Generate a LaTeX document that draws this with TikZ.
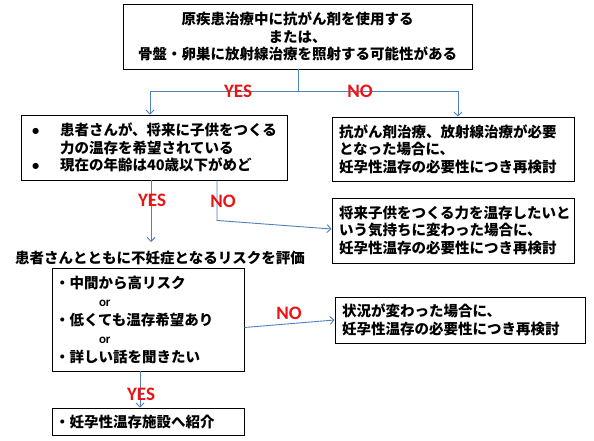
\documentclass[tikz,border=0pt]{standalone}
\usepackage{fontspec}
\setmainfont{Noto Sans CJK JP}
\newfontfamily\lat{Carlito}
\usetikzlibrary{arrows.meta}
\definecolor{ln}{RGB}{79,129,189}
\definecolor{lbl}{RGB}{235,20,20}
\tikzset{
  box/.style={draw=black,line width=0.9pt,inner sep=0pt,font=\fontsize{14.5}{17.5}\selectfont\bfseries},
  arr/.style={draw=ln,line width=0.9pt,-{Straight Barb[length=4pt,width=8pt]}},
  conn/.style={draw=ln,line width=0.9pt},
  yn/.style={text=lbl,font=\lat\fontsize{19}{19}\selectfont\bfseries,inner sep=0pt},
  orl/.style={font=\lat\fontsize{13}{13}\selectfont\bfseries,inner sep=0pt}
}
\begin{document}
\begin{tikzpicture}[x=1pt,y=-1pt]
\useasboundingbox[fill=white] (0,0) rectangle (594,441);
% boxes
\node[box,minimum width=349pt,minimum height=65pt,align=center] (b1) at (297.5,36.5)
  {原疾患治療中に抗がん剤を使用する\\または、\\骨盤・卵巣に放射線治療を照射する可能性がある};
\node[box,minimum width=266pt,minimum height=65pt,align=left,text width=244pt,inner xsep=11pt] (b2) at (154,147.5)
  {\makebox[28pt][l]{\lat•}患者さんが、将来に子供をつくる\\\makebox[28pt][l]{}力の温存を希望されている\\\makebox[28pt][l]{\lat•}現在の年齢は40歳以下がめど};
\node[box,minimum width=242pt,minimum height=64pt,align=left,text width=228pt,inner xsep=7pt] (r1) at (453,149)
  {抗がん剤治療、放射線治療が必要\\となった場合に、\\妊孕性温存の必要性につき再検討};
\node[box,minimum width=242pt,minimum height=65pt,align=left,text width=228pt,inner xsep=7pt] (r2) at (453,230.5)
  {将来子供をつくる力を温存したいと\\いう気持ちに変わった場合に、\\妊孕性温存の必要性につき再検討};
\node[font=\fontsize{14.5}{17.5}\selectfont\bfseries,inner sep=1pt] (risk) at (160,258)
  {患者さんとともに不妊症となるリスクを評価};
\node[box,minimum width=192pt,minimum height=103pt,align=left,text width=186pt,inner xsep=3pt] (b3) at (148,319.5)
  {・中間から高リスク\\[1pt]\makebox[44pt]{}{\lat\fontsize{13}{13}\selectfont\bfseries or}\\[1pt]・低くても温存希望あり\\[1pt]\makebox[44pt]{}{\lat\fontsize{13}{13}\selectfont\bfseries or}\\[1pt]・詳しい話を聞きたい};
\node[box,minimum width=250pt,minimum height=46pt,align=left,text width=236pt,inner xsep=7pt] (r3) at (460,320)
  {状況が変わった場合に、\\妊孕性温存の必要性につき再検討};
\node[box,minimum width=192pt,minimum height=27pt,align=left,text width=186pt,inner xsep=3pt] (b4) at (148,421.5)
  {・妊孕性温存施設へ紹介};
% connectors
\coordinate (j1) at (298,91);
\draw[conn] (b1.south -| j1) -- (j1);
\draw[arr] (j1) -| ([xshift=-4pt]b2.north);
\draw[arr] (j1) -| ([xshift=5pt]r1.north);
\node[yn] at (238,91) {YES};
\node[yn] at (360,91) {NO};
\draw[arr] ([xshift=-3pt]b2.south) -- ([xshift=-3pt]b2.south |- 0,242) coordinate (yesend);
\node[yn] at (152,200) {YES};
\draw[arr] ([xshift=63pt]b2.south) -- ++(0,40) -- ([yshift=1.5pt]r2.west);
\node[yn] at (223,201) {NO};
\draw[arr] ([yshift=-8pt]b3.east) -- (r3.west);
\node[yn] at (289,313) {NO};
\draw[arr] ([xshift=-8pt]b3.south) -- ([xshift=-8pt]b4.north);
\node[yn] at (141,394) {YES};
\end{tikzpicture}
\end{document}
